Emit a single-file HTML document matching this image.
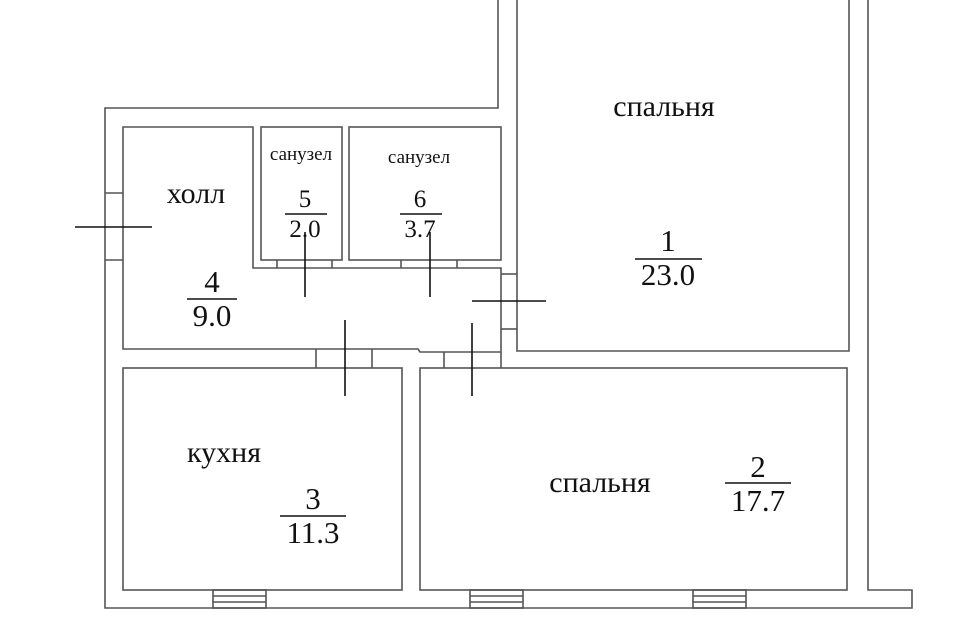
<!DOCTYPE html>
<html><head><meta charset="utf-8"><style>
html,body{margin:0;padding:0;background:#fff;width:960px;height:640px;overflow:hidden}
text{font-family:"Liberation Serif",serif;fill:#111}
</style></head><body>
<svg width="960" height="640" viewBox="0 0 960 640" xmlns="http://www.w3.org/2000/svg">
<g fill="none" stroke="#555" stroke-width="1.6">
<polyline points="498,0 498,108 105,108 105,608 912,608 912,590 868,590 868,0"/>
<polyline points="517,0 517,351 849,351 849,0"/>
<polyline points="501,350 501,352 420,352 418,349 123,349 123,127 253,127 253,268 501,268 501,350"/>
<rect x="261" y="127" width="81" height="133"/>
<rect x="349" y="127" width="152" height="133"/>
<line x1="277" y1="260" x2="277" y2="268"/><line x1="332" y1="260" x2="332" y2="268"/>
<line x1="401" y1="260" x2="401" y2="268"/><line x1="457" y1="260" x2="457" y2="268"/>
<rect x="123" y="368" width="279" height="222"/>
<rect x="420" y="368" width="427" height="222"/>
<polyline points="105,193 123,193"/><polyline points="105,260 123,260"/>
<polyline points="316,349 316,368"/><polyline points="372,349 372,368"/>
<polyline points="444,352 444,368"/><polyline points="501,352 501,368"/>
<polyline points="501,274 517,274"/><polyline points="501,329 517,329"/>
<rect x="213" y="590" width="53" height="18"/>
<line x1="213" y1="596" x2="266" y2="596"/><line x1="213" y1="602" x2="266" y2="602"/>
<rect x="470" y="590" width="53" height="18"/>
<line x1="470" y1="596" x2="523" y2="596"/><line x1="470" y1="602" x2="523" y2="602"/>
<rect x="693" y="590" width="53" height="18"/>
<line x1="693" y1="596" x2="746" y2="596"/><line x1="693" y1="602" x2="746" y2="602"/>
</g>
<g stroke="#111" stroke-width="1.6">
<line x1="75" y1="227" x2="152" y2="227"/>
<line x1="305" y1="232" x2="305" y2="297"/>
<line x1="430" y1="232" x2="430" y2="297"/>
<line x1="472" y1="301" x2="546" y2="301"/>
<line x1="345" y1="320" x2="345" y2="396"/>
<line x1="472" y1="323" x2="472" y2="396"/>
<line x1="285" y1="214" x2="327" y2="214"/>
<line x1="400" y1="214" x2="442" y2="214"/>
<line x1="187" y1="299" x2="237" y2="299"/>
<line x1="635" y1="259" x2="702" y2="259"/>
<line x1="280" y1="516" x2="346" y2="516"/>
<line x1="725" y1="483" x2="791" y2="483"/>
</g>
<g text-anchor="middle">
<text x="664" y="116" font-size="30">спальня</text>
<text x="668" y="251" font-size="31">1</text>
<text x="668" y="285" font-size="31">23.0</text>
<text x="301" y="160" font-size="19">санузел</text>
<text x="419" y="163" font-size="19">санузел</text>
<text x="305" y="207" font-size="25">5</text>
<text x="305" y="237" font-size="25">2.0</text>
<text x="420" y="207" font-size="25">6</text>
<text x="420" y="237" font-size="25">3.7</text>
<text x="196" y="203" font-size="30">холл</text>
<text x="212" y="292" font-size="31">4</text>
<text x="212" y="326" font-size="31">9.0</text>
<text x="224" y="462" font-size="30">кухня</text>
<text x="313" y="509" font-size="31">3</text>
<text x="313" y="543" font-size="31">11.3</text>
<text x="600" y="492" font-size="30">спальня</text>
<text x="758" y="477" font-size="31">2</text>
<text x="758" y="511" font-size="31">17.7</text>
</g>
</svg>
</body></html>
